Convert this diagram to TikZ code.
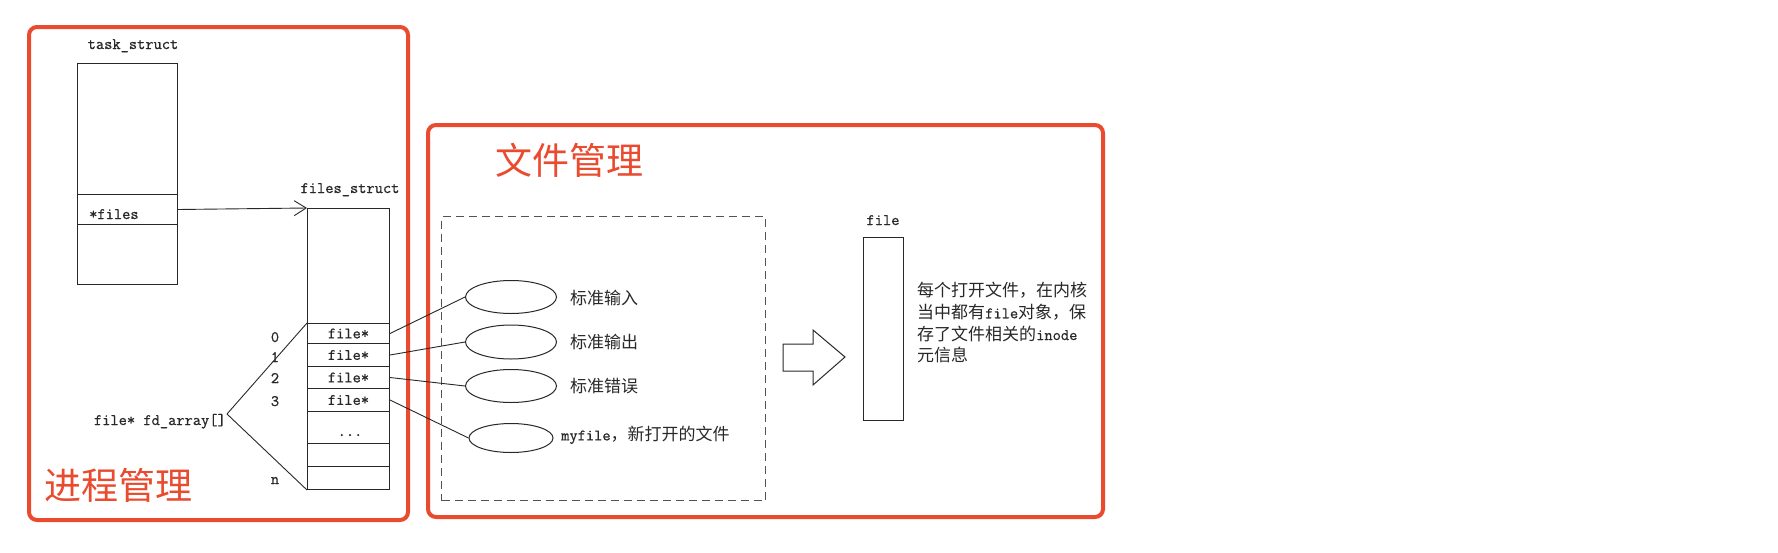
\documentclass[tikz,border=0pt]{standalone}
\usepackage{fontspec}
\newfontfamily\cjk{Noto Sans CJK SC}
\newfontfamily\refmono[FakeBold=0.8]{Latin Modern Mono}
\usetikzlibrary{arrows.meta,shapes.geometric}
\definecolor{annot}{RGB}{234,74,46}
\definecolor{ln}{RGB}{40,40,40}
\newcommand\latmono[1]{{\fontsize{16}{18}\selectfont\refmono #1}}
\begin{document}
\begin{tikzpicture}[x=1pt,y=-1pt,
  box/.style={draw=ln,line width=1pt,inner sep=0pt,anchor=north west},
  mono/.style={font=\fontsize{16}{18}\selectfont\refmono,inner sep=0pt,text=ln},
  zh/.style={font=\fontsize{17}{20}\selectfont\cjk,inner sep=0pt,text=ln},
  redbox/.style={draw=annot,line width=4pt,rounded corners=8pt},
  title/.style={font=\fontsize{37}{40}\selectfont\cjk,text=annot,inner sep=0pt},
  conn/.style={draw=ln,line width=0.9pt},
  oval/.style={ellipse,draw=ln,line width=1pt,inner sep=0pt}
]
\useasboundingbox (0,0) rectangle (1778,552);
\fill[white] (0,0) rectangle (1778,552);

% annotation frames
\draw[redbox] (29,27) rectangle (408,520);
\draw[redbox] (428,125) rectangle (1103,517);
\node[title,anchor=west] (t1) at (495,160) {文件管理};
\node[title,anchor=west] (t2) at (44,485) {进程管理};

% task_struct
\node[mono,anchor=base] (tsl) at (133,49) {task\_struct};
\node[box,minimum width=100pt,minimum height=221pt] (ts) at (77,63) {};
\node[box,minimum width=100pt,minimum height=30pt] (tf) at (77,194) {};
\node[mono,anchor=base west] (tft) at (89,219) {*files};

% files_struct
\node[mono,anchor=base] (fsl) at (350,193) {files\_struct};
\node[box,minimum width=82pt,minimum height=281pt] (fs) at (307,208) {};
\node[box,mono,minimum width=82pt,minimum height=20pt] (r0) at (307,323) {file*};
\node[box,mono,minimum width=82pt,minimum height=23pt] (r1) at (307,343) {file*};
\node[box,mono,minimum width=82pt,minimum height=22pt] (r2) at (307,366) {file*};
\node[box,mono,minimum width=82pt,minimum height=23pt] (r3) at (307,388) {file*};
\node[box,minimum width=82pt,minimum height=32pt] (r4) at (307,411) {};
\node[mono,anchor=base] (dots) at (350,436) {...};
\node[box,minimum width=82pt,minimum height=23pt] (r5) at (307,443) {};
\node[box,minimum width=82pt,minimum height=23pt] (r6) at (307,466) {};

\draw[conn,-{Straight Barb[length=12pt,width=15pt]}] (tf.east) -- (fs.north west);

% indices
\node[mono,anchor=base] (i0) at (275,342) {0};
\node[mono,anchor=base] (i1) at (275,362) {1};
\node[mono,anchor=base] (i2) at (275,383) {2};
\node[mono,anchor=base] (i3) at (275,406) {3};
\node[mono,anchor=base] (in) at (275,484) {n};

% fd_array
\node[mono,anchor=base east] (fd) at (226,425) {file* fd\_array[]};
\coordinate (fdtip) at (227,414);
\draw[conn] (fdtip) -- (r0.north west);
\draw[conn] (fdtip) -- (r6.south west);

% dashed area
\node[box,draw=ln!80,dash pattern=on 8pt off 5pt,minimum width=324pt,minimum height=284pt] (db) at (441,216) {};

\node[oval,minimum width=91pt,minimum height=33pt] (e1) at (511,297) {};
\node[oval,minimum width=91pt,minimum height=34pt] (e2) at (511,342) {};
\node[oval,minimum width=91pt,minimum height=33pt] (e3) at (511,386) {};
\node[oval,minimum width=84pt,minimum height=29pt] (e4) at (511,438) {};

\node[zh,anchor=west] (l1) at (570,298) {标准输入};
\node[zh,anchor=west] (l2) at (570,342) {标准输出};
\node[zh,anchor=west] (l3) at (570,386) {标准错误};
\node[zh,anchor=west] (l4) at (561,435) {\latmono{myfile}，新打开的文件};

\draw[conn] (r0.east) -- (e1.west);
\draw[conn] (r1.east) -- (e2.west);
\draw[conn] (r2.east) -- (e3.west);
\draw[conn] (r3.east) -- (e4.west);

% big hollow arrow
\draw[ln,line width=1pt,line join=miter] (783,344) -- (813,344) -- (813,330) -- (845,357) -- (813,385) -- (813,371) -- (783,371) -- cycle;

% file object
\node[mono,anchor=base] (fbl) at (883,225) {file};
\node[box,minimum width=40pt,minimum height=183pt] (fb) at (863,237) {};

\node[zh,anchor=west] (d1) at (917,290) {每个打开文件，在内核};
\node[zh,anchor=west] (d2) at (917,312) {当中都有\latmono{file}对象，保};
\node[zh,anchor=west] (d3) at (917,333.5) {存了文件相关的\latmono{inode}};
\node[zh,anchor=west] (d4) at (917,355) {元信息};
\end{tikzpicture}
\end{document}
